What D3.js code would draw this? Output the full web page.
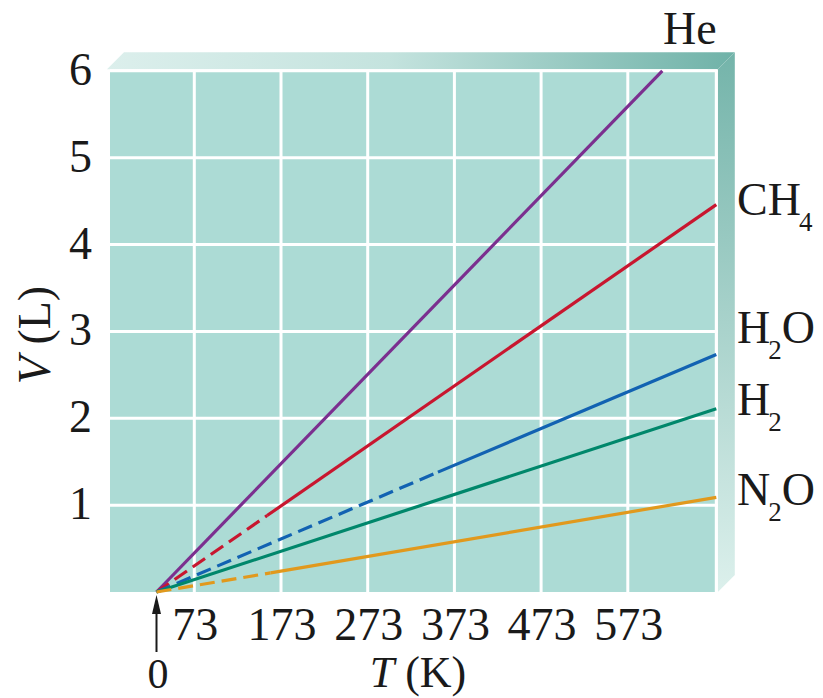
<!DOCTYPE html>
<html>
<head>
<meta charset="utf-8">
<title>Charles's law</title>
<script src="https://cdn.jsdelivr.net/npm/d3@7"></script>
<style>
  html, body { margin: 0; padding: 0; background: #fff; }
  .vis { width: 823px; height: 698px; }
  text { font-family: "Liberation Serif", "Times New Roman", serif; fill: #1a1a1a; }
</style>
</head>
<body>
<div class="vis"></div>
<script>
(function() {
  'use strict';

  // values
  var gases = ['He', 'CH4', 'H2O', 'H2', 'N2O'];
  var colors = ['#7b2f8f', '#c8162f', '#1262b2', '#00876b', '#e1991d'];
  var tEnd = [612, 673, 673, 673, 673];     // K, where each line stops
  var vEnd = [6, 4.46, 2.735, 2.11, 1.09];  // L at that point
  var tDash = [0, 157, 354, 0, 161];        // dashed (extrapolated) part up to here
  var vDash = [0, 0.88, 1.38, 0, 0.22];
  var xTicks = [73, 173, 273, 373, 473, 573];
  var yTicks = [1, 2, 3, 4, 5, 6];
  // label text split into normal / subscript parts
  var labelParts = [['He'], ['CH', '4'], ['H', '2', 'O'], ['H', '2'], ['N', '2', 'O']];

  var el = d3.select('.vis'),
    elWidth = 823,
    elHeight = 698,
    left = 110,
    depth = 17;

  // the origin is drawn closer to 73 K than the rest of the axis
  var x = d3.scaleLinear()
    .domain([0, 73, 573, 673])
    .range([156.5, 194.3, 627.8, 716.3]);

  var y = d3.scaleLinear()
    .domain([0, 6])
    .range([592, 70.8]);

  var svg = el.append('svg')
    .attr('width', elWidth)
    .attr('height', elHeight);

  var defs = svg.append('defs');

  var gTop = defs.append('linearGradient')
    .attr('id', 'topFace')
    .attr('x1', '0%').attr('y1', '0%')
    .attr('x2', '100%').attr('y2', '0%');
  gTop.append('stop').attr('offset', '0%').attr('stop-color', '#dcefec');
  gTop.append('stop').attr('offset', '45%').attr('stop-color', '#c4e3de');
  gTop.append('stop').attr('offset', '100%').attr('stop-color', '#6fb2a8');

  var gSide = defs.append('linearGradient')
    .attr('id', 'sideFace')
    .attr('x1', '0%').attr('y1', '0%')
    .attr('x2', '0%').attr('y2', '100%');
  gSide.append('stop').attr('offset', '0%').attr('stop-color', '#74b4aa');
  gSide.append('stop').attr('offset', '100%').attr('stop-color', '#dcf0ec');

  var x0 = left,
    x1 = x(673),
    yTop = y(6),
    yBot = y(0);

  // box faces
  svg.append('polygon')
    .attr('points', [[x0 - 3, yTop - 1.5], [x0 - 3 + depth, yTop - 1.5 - depth],
      [x1 + 1.5 + depth, yTop - 1.5 - depth], [x1 + 1.5, yTop - 1.5]].join(' '))
    .attr('fill', 'url(#topFace)');

  svg.append('polygon')
    .attr('points', [[x1 + 1.5, yTop - 1.5], [x1 + 1.5 + depth, yTop - 1.5 - depth],
      [x1 + 1.5 + depth, yBot - depth], [x1 + 1.5, yBot]].join(' '))
    .attr('fill', 'url(#sideFace)');

  svg.append('rect')
    .attr('x', x0)
    .attr('y', yTop)
    .attr('width', x1 - x0)
    .attr('height', yBot - yTop)
    .attr('fill', '#acdbd5');

  // grid
  svg.selectAll('.vgrid')
    .data(xTicks.concat([673]))
    .enter().append('line')
      .attr('class', 'vgrid')
      .attr('x1', function(d) { return x(d); })
      .attr('x2', function(d) { return x(d); })
      .attr('y1', yTop)
      .attr('y2', yBot)
      .attr('stroke', '#fff')
      .attr('stroke-width', 3);

  svg.selectAll('.hgrid')
    .data(yTicks)
    .enter().append('line')
      .attr('class', 'hgrid')
      .attr('x1', x0)
      .attr('x2', x1 + 1.5)
      .attr('y1', function(d) { return y(d); })
      .attr('y2', function(d) { return y(d); })
      .attr('stroke', '#fff')
      .attr('stroke-width', 3);

  // gas lines
  var line = d3.line()
    .x(function(d) { return x(d[0]); })
    .y(function(d) { return y(d[1]); });

  var plot = svg.append('g');

  gases.forEach(function(g, i) {
    if (tDash[i] > 0) {
      plot.append('path')
        .attr('d', line([[0, 0], [tDash[i], vDash[i]]]))
        .attr('fill', 'none')
        .attr('stroke', colors[i])
        .attr('stroke-width', 3.2)
        .attr('stroke-dasharray', '15,7');
    }
    plot.append('path')
      .attr('d', line([[tDash[i], vDash[i]], [tEnd[i], vEnd[i]]]))
      .attr('fill', 'none')
      .attr('stroke', colors[i])
      .attr('stroke-width', 3.2);
  });

  // y tick labels
  svg.selectAll('.ylab')
    .data(yTicks)
    .enter().append('text')
      .attr('class', 'ylab')
      .attr('x', 92)
      .attr('y', function(d) { return y(d) + 14; })
      .attr('text-anchor', 'end')
      .attr('font-size', 46)
      .text(function(d) { return d; });

  // x tick labels
  svg.selectAll('.xlab')
    .data(xTicks)
    .enter().append('text')
      .attr('class', 'xlab')
      .attr('x', function(d) { return x(d) + 1; })
      .attr('y', 640)
      .attr('text-anchor', 'middle')
      .attr('font-size', 46)
      .text(function(d) { return d; });

  // arrow to 0 K
  var ax = x(0);
  svg.append('line')
    .attr('x1', ax).attr('x2', ax)
    .attr('y1', 608).attr('y2', 652)
    .attr('stroke', '#1a1a1a')
    .attr('stroke-width', 2);
  svg.append('polygon')
    .attr('points', [[ax, 595], [ax - 4.5, 614], [ax + 4.5, 614]].join(' '))
    .attr('fill', '#1a1a1a');
  svg.append('text')
    .attr('x', ax + 1.5)
    .attr('y', 688)
    .attr('text-anchor', 'middle')
    .attr('font-size', 42)
    .text(0);

  // axis titles
  var xt = svg.append('text')
    .attr('x', 418)
    .attr('y', 687)
    .attr('text-anchor', 'middle')
    .attr('font-size', 44);
  xt.append('tspan').attr('font-style', 'italic').text('T');
  xt.append('tspan').text(' (K)');

  var yt = svg.append('text')
    .attr('transform', 'translate(50,335) rotate(-90)')
    .attr('text-anchor', 'middle')
    .attr('font-size', 46);
  yt.append('tspan').attr('font-style', 'italic').text('V');
  yt.append('tspan').text(' (L)');

  // gas labels on the right
  var labelX = [663, 737, 737, 737, 737];
  var labelV = [6.31, 4.34, 2.87, 2.04, 1.0];

  labelParts.forEach(function(parts, i) {
    var t = svg.append('text')
      .attr('x', labelX[i])
      .attr('y', y(labelV[i]))
      .attr('font-size', 46);
    parts.forEach(function(p, j) {
      var isSub = j % 2 === 1;
      t.append('tspan')
        .attr('font-size', isSub ? 27 : 46)
        .attr('dy', j === 0 ? 0 : (isSub ? 16 : -16))
        .attr('dx', isSub ? -2 : 0)
        .text(p);
    });
  });

}());
</script>
</body>
</html>
